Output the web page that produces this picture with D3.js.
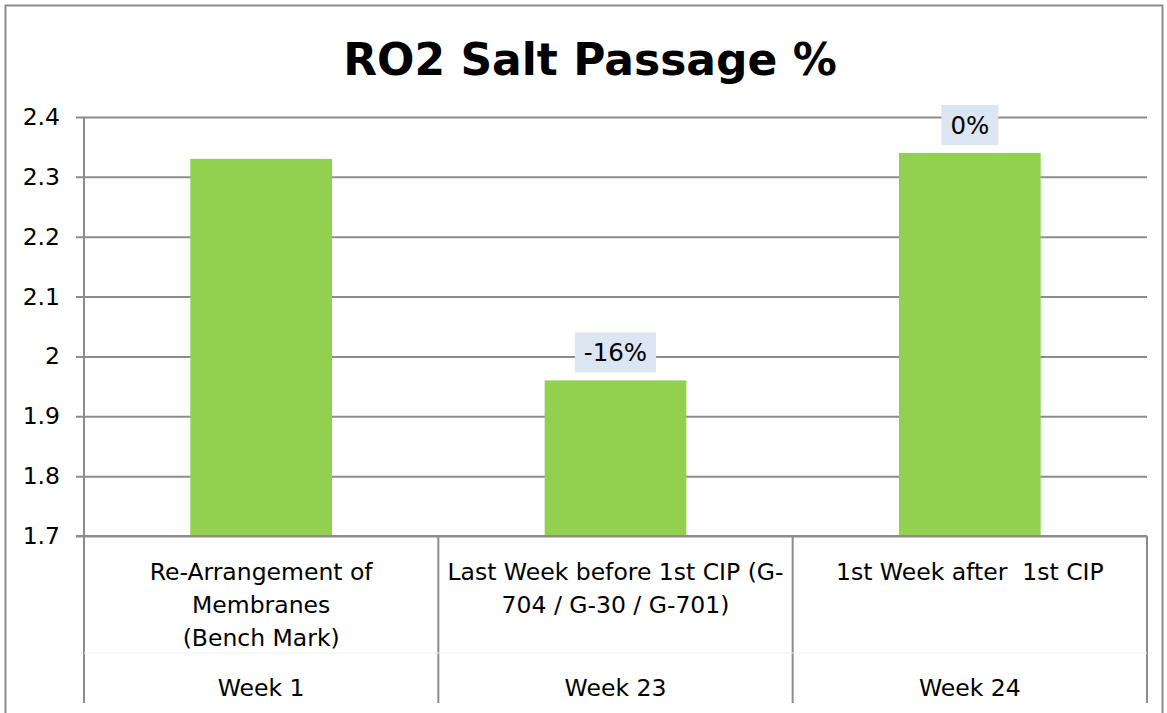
<!DOCTYPE html>
<html>
<head>
<meta charset="utf-8">
<script src="https://cdn.jsdelivr.net/npm/d3@7"></script>
<style>
  body { margin: 0; background: #fff; }
  text { font-family: "DejaVu Sans", sans-serif; fill: #000; }
</style>
</head>
<body>
<svg id="canvas" width="1167" height="713"></svg>
<script>
// chart data
let categories = [
    ["Re-Arrangement of", "Membranes", "(Bench Mark)"],
    ["Last Week before 1st CIP (G-", "704 / G-30 / G-701)"],
    ["1st Week after  1st CIP"]
];
let weeks = ["Week 1", "Week 23", "Week 24"];
let values = [2.33, 1.96, 2.34];
let changeLabels = [null, "-16%", "0%"];
let yTicks = [1.7, 1.8, 1.9, 2, 2.1, 2.2, 2.3, 2.4];

let canvas = d3.select('#canvas');

let plotLeft = 84, plotRight = 1147, plotTop = 117, plotBottom = 536, axisEnd = 703;
let fontSize = '23.5px';

// chart border
canvas.append('rect')
    .attr('x', 5.5).attr('y', 5.5)
    .attr('width', 1157).attr('height', 740)
    .attr('fill', 'none')
    .attr('stroke', '#8c8c8c')
    .attr('stroke-width', 2);

canvas.append('text')
    .text('RO2 Salt Passage %')
    .attr('x', 590).attr('y', 75)
    .attr('text-anchor', 'middle')
    .style('font-weight', 'bold')
    .style('font-size', '44px');

let yScale = d3.scaleLinear().domain([1.7, 2.4]).range([plotBottom, plotTop]);
let slotScale = d3.scaleBand().domain(d3.range(values.length)).range([plotLeft, plotRight]).padding(0);
let xScale = d3.scaleBand().domain(d3.range(values.length)).range([plotLeft, plotRight])
                .paddingInner(0.6).paddingOuter(0.3);

// gridlines + ticks
let yAxis = d3.axisLeft(yScale)
                .tickValues(yTicks)
                .tickSize(plotRight - plotLeft + 8)
                .tickSizeOuter(0)
                .tickFormat(d3.format(''));

let yg = canvas.append('g')
    .attr('transform', 'translate(' + plotRight + ',0)')
    .call(yAxis);
yg.select('.domain').remove();
yg.selectAll('line').attr('stroke', '#8c8c8c').attr('stroke-width', 2);
yg.selectAll('text')
    .attr('x', -(plotRight - plotLeft) - 24)
    .attr('fill', '#000')
    .style('font-size', fontSize)
    .style('font-family', '"DejaVu Sans", sans-serif');

// bars
canvas.selectAll('rect.bar')
    .data(values)
    .enter()
    .append('rect')
    .attr('class', 'bar')
    .attr('x', (d, i) => xScale(i))
    .attr('y', (d) => yScale(d))
    .attr('width', xScale.bandwidth())
    .attr('height', (d) => yScale(1.7) - yScale(d))
    .attr('fill', '#92d050');

// change labels
let labelGroups = canvas.selectAll('g.chg')
    .data(values.map((v, i) => ({v: v, i: i, t: changeLabels[i]})).filter((d) => d.t))
    .enter()
    .append('g')
    .attr('class', 'chg');

labelGroups.each(function (d) {
    let g = d3.select(this);
    let cx = xScale(d.i) + xScale.bandwidth() / 2;
    let cy = yScale(d.v) - 28;
    let txt = g.append('text')
        .text(d.t)
        .attr('x', cx).attr('y', cy + 9)
        .attr('text-anchor', 'middle')
        .style('font-size', '24.5px');
    let w = txt.node().getComputedTextLength() + 18;
    g.insert('rect', 'text')
        .attr('x', cx - w / 2).attr('y', cy - 20)
        .attr('width', w).attr('height', 40)
        .attr('fill', '#dce6f2');
});

// axis lines
canvas.append('line')
    .attr('x1', plotLeft).attr('x2', plotLeft).attr('y1', plotTop).attr('y2', axisEnd)
    .attr('stroke', '#8c8c8c').attr('stroke-width', 2);
canvas.append('line')
    .attr('x1', plotLeft - 8).attr('x2', plotRight).attr('y1', plotBottom).attr('y2', plotBottom)
    .attr('stroke', '#8c8c8c').attr('stroke-width', 2);

// category separators
canvas.selectAll('line.sep')
    .data(values)
    .enter()
    .append('line')
    .attr('class', 'sep')
    .attr('x1', (d, i) => slotScale(i) + slotScale.bandwidth())
    .attr('x2', (d, i) => slotScale(i) + slotScale.bandwidth())
    .attr('y1', plotBottom).attr('y2', axisEnd)
    .attr('stroke', '#8c8c8c').attr('stroke-width', 2);

// faint divider between the two label levels
canvas.append('line')
    .attr('x1', plotLeft).attr('x2', plotRight).attr('y1', 653).attr('y2', 653)
    .attr('stroke', '#f0f0f0').attr('stroke-width', 1);

// category labels
categories.forEach((lines, i) => {
    let cx = slotScale(i) + slotScale.bandwidth() / 2;
    lines.forEach((line, j) => {
        canvas.append('text')
            .text(line)
            .attr('x', cx).attr('y', 580 + j * 33)
            .attr('text-anchor', 'middle')
            .style('white-space', 'pre')
            .style('font-size', fontSize);
    });
    canvas.append('text')
        .text(weeks[i])
        .attr('x', cx).attr('y', 696)
        .attr('text-anchor', 'middle')
        .style('font-size', fontSize);
});
</script>
</body>
</html>
